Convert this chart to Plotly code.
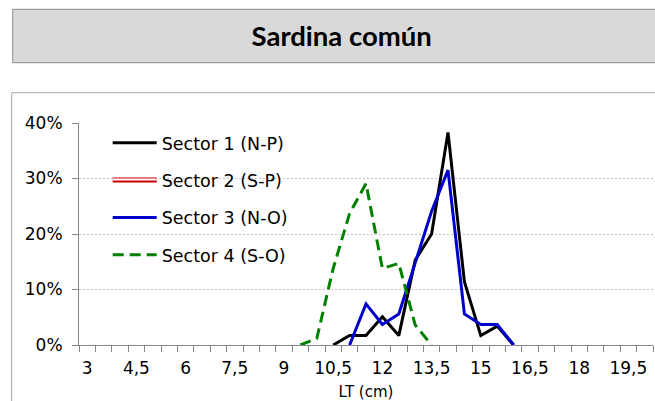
import plotly.graph_objects as go

# ---------------- data ----------------
tick_vals = [3, 4.5, 6, 7.5, 9, 10.5, 12, 13.5, 15, 16.5, 18, 19.5]
tick_text = ["3", "4,5", "6", "7,5", "9", "10,5", "12", "13,5", "15", "16,5", "18", "19,5"]

s1_name = "Sector 1 (N-P)"
s1_len = [10.5, 11, 11.5, 12, 12.5, 13, 13.5, 14, 14.5, 15, 15.5, 16]
s1_pct = [0, 1.7, 1.7, 5.1, 1.7, 15.3, 20.0, 38.3, 11.4, 1.7, 3.4, 0]

s2_name = "Sector 2 (S-P)"
s2_len = [None]   # no catches in this sector
s2_pct = [None]

s3_name = "Sector 3 (N-O)"
s3_len = [11, 11.5, 12, 12.5, 13, 13.5, 14, 14.5, 15, 15.5, 16]
s3_pct = [0, 7.4, 3.7, 5.6, 14.8, 24.1, 31.5, 5.6, 3.7, 3.7, 0]

s4_name = "Sector 4 (S-O)"
s4_len = [9.5, 10, 10.5, 11, 11.5, 12, 12.5, 13, 13.5]
s4_pct = [0, 1.2, 13.8, 23.7, 29.1, 13.8, 14.7, 3.6, 0]

title_text = "Sardina común"
x_title = "LT (cm)"

# ---------------- layout geometry (pixels) ----------------
W, H = 655, 401
ML, MR, MT, MB = 79, 2, 123, 56
PW = W - ML - MR
PH = H - MT - MB


def px_x(p):
    return (p - ML) / PW


def px_y(p):
    return (H - MB - p) / PH


FONT = "DejaVu Sans"
AXC = "#868686"

fig = go.Figure()
fig.add_trace(go.Scatter(x=s1_len, y=s1_pct, name=s1_name, mode="lines",
                         line=dict(color="#000000", width=3),
                         legendgroup="g1", legend="legend"))
fig.add_trace(go.Scatter(x=s2_len, y=s2_pct, name=s2_name, mode="lines",
                         line=dict(color="#CC0000", width=5),
                         legendgroup="g2", legend="legend"))
fig.add_trace(go.Scatter(x=s3_len, y=s3_pct, name=s3_name, mode="lines",
                         line=dict(color="#0000CC", width=3),
                         legendgroup="g3", legend="legend"))
fig.add_trace(go.Scatter(x=s4_len, y=s4_pct, name=s4_name, mode="lines",
                         line=dict(color="#008000", width=3, dash="11px,6px"),
                         legendgroup="g4", legend="legend"))
# white core for the outlined Sector 2 legend symbol
fig.add_trace(go.Scatter(x=s2_len, y=s2_pct, name=s2_name, mode="lines",
                         line=dict(color="#FFFFFF", width=2),
                         legend="legend2", hoverinfo="skip"))

leg_x = px_x(107.7)
leg_top = 124.8
row_gap = 36.7

fig.update_layout(
    width=W, height=H,
    margin=dict(l=ML, r=MR, t=MT, b=MB, autoexpand=False),
    paper_bgcolor="white", plot_bgcolor="white",
    font=dict(family=FONT, size=17, color="#000000"),
    title=dict(text="<b>" + title_text + "</b>", xref="container", yref="container",
               x=341.7 / W, y=1 - 36 / H, xanchor="center", yanchor="middle",
               font=dict(family="Lato", size=27.5, color="#000000")),
    showlegend=True,
    legend=dict(x=leg_x, y=px_y(leg_top), xanchor="left", yanchor="top",
                bgcolor="rgba(0,0,0,0)", borderwidth=0, itemwidth=44,
                traceorder="grouped", tracegroupgap=11.6,
                font=dict(family=FONT, size=17.5, color="#000000")),
    legend2=dict(x=leg_x, y=px_y(leg_top + row_gap), xanchor="left", yanchor="top",
                 bgcolor="rgba(0,0,0,0)", borderwidth=0, itemwidth=44,
                 font=dict(family=FONT, size=17.5, color="rgba(0,0,0,0)")),
    xaxis=dict(range=[2.75, 20.25], tickmode="array", tickvals=tick_vals, ticktext=tick_text,
               ticks="", showgrid=False, zeroline=False, automargin=False,
               showline=True, linecolor=AXC, linewidth=1,
               ticklabelstandoff=8,
               tickfont=dict(family=FONT, size=17),
               minor=dict(tick0=2.75, dtick=0.5, ticks="outside", ticklen=6,
                          tickcolor=AXC, tickwidth=1, showgrid=False),
               title=dict(text=x_title, font=dict(family=FONT, size=15), standoff=10)),
    yaxis=dict(range=[0, 40], dtick=10, ticksuffix="%", ticks="outside", ticklen=6,
               tickcolor=AXC, showline=True, linecolor=AXC, linewidth=1,
               zeroline=False, showgrid=True, gridcolor="#C4C4C4", griddash="2px,2px",
               gridwidth=1, ticklabelstandoff=6, automargin=False,
               tickfont=dict(family=FONT, size=17)),
    shapes=[
        dict(type="rect", xref="paper", yref="paper", layer="below",
             x0=px_x(12.7), x1=px_x(671), y0=px_y(62.7), y1=px_y(9.3),
             fillcolor="#D9D9D9", line=dict(color="#8C8C8C", width=1)),
        dict(type="rect", xref="paper", yref="paper", layer="below",
             x0=px_x(11.7), x1=px_x(671), y0=px_y(420), y1=px_y(92.7),
             fillcolor="rgba(0,0,0,0)", line=dict(color="#A6A6A6", width=1)),
    ],
)

fig.write_html("out.html",
               config={"displayModeBar": False, "staticPlot": False},
               post_script="document.body.style.margin='0px';document.body.style.overflow='hidden';")
